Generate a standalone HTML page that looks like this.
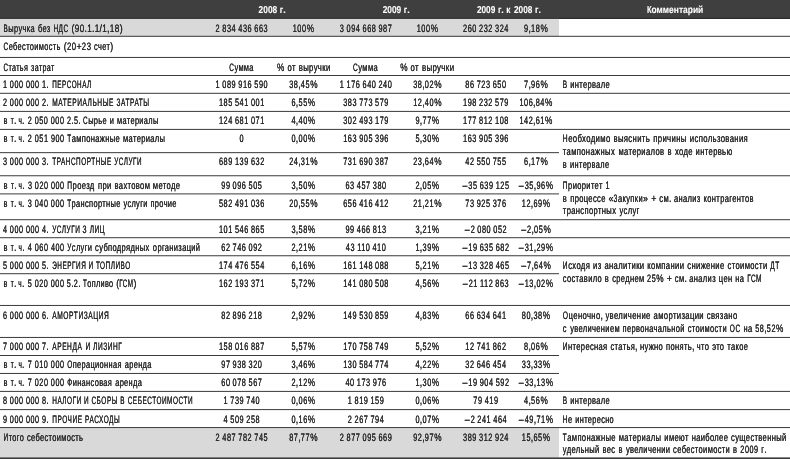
<!DOCTYPE html>
<html><head><meta charset="utf-8"><title>table</title>
<style>
html,body{margin:0;padding:0;background:#fff;}
body{width:790px;height:459px;position:relative;overflow:hidden;font-family:"Liberation Sans",sans-serif;}
svg{position:absolute;left:0;top:0;}
#tx{position:absolute;left:0;top:0;width:790px;height:459px;will-change:transform;}
span{position:absolute;left:0;top:0;white-space:pre;transform-origin:0 0;line-height:normal;text-rendering:geometricPrecision;}
.t{font-size:10.8px;color:#2b2b2b;-webkit-text-stroke:0.15px #2b2b2b;text-shadow:0 0 0 #2b2b2b;}
.h{font-size:10.0px;font-weight:bold;color:#fff;-webkit-text-stroke:0.1px #fff;}
</style></head><body>
<svg width="790" height="459" viewBox="0 0 790 459">
<rect x="0" y="0" width="790" height="18.4" fill="#3f3f3f"/>
<rect x="0" y="17.9" width="790" height="1.0" fill="#1c1c1c"/>
<rect x="0" y="18.9" width="559.0" height="17.4" fill="#d9d9d9"/>
<rect x="0" y="427.55" width="559.0" height="30.05000000000001" fill="#d9d9d9"/>
<rect x="0" y="35.80" width="790" height="1" fill="#3a3a3a"/>
<rect x="0" y="56.95" width="790" height="1" fill="#3a3a3a"/>
<rect x="0" y="75.00" width="790" height="1" fill="#3a3a3a"/>
<rect x="0" y="92.80" width="790" height="1" fill="#3a3a3a"/>
<rect x="0" y="110.90" width="790" height="1" fill="#3a3a3a"/>
<rect x="0" y="128.90" width="790" height="1" fill="#3a3a3a"/>
<rect x="0" y="152.15" width="559.0" height="1" fill="#3a3a3a"/>
<rect x="0" y="175.25" width="790" height="1" fill="#3a3a3a"/>
<rect x="0" y="193.40" width="559.0" height="1" fill="#3a3a3a"/>
<rect x="0" y="219.20" width="790" height="1" fill="#3a3a3a"/>
<rect x="0" y="237.20" width="790" height="1" fill="#3a3a3a"/>
<rect x="0" y="255.25" width="790" height="1" fill="#3a3a3a"/>
<rect x="0" y="273.20" width="559.0" height="1" fill="#3a3a3a"/>
<rect x="0" y="304.95" width="790" height="1" fill="#3a3a3a"/>
<rect x="0" y="336.95" width="790" height="1" fill="#3a3a3a"/>
<rect x="0" y="355.00" width="559.0" height="1" fill="#3a3a3a"/>
<rect x="0" y="372.95" width="559.0" height="1" fill="#3a3a3a"/>
<rect x="0" y="390.90" width="790" height="1" fill="#3a3a3a"/>
<rect x="0" y="409.10" width="790" height="1" fill="#3a3a3a"/>
<rect x="0" y="427.05" width="790" height="1" fill="#3a3a3a"/>
<rect x="0" y="457.4" width="790" height="1.6" fill="#3a3a3a"/>
</svg>
<div id="tx">
<span class="h" style="transform:translate(258.60px,5.00px) scaleX(0.8344)">2008</span>
<span class="h" style="transform:translate(279.76px,5.00px) scaleX(0.8376)">г</span>
<span class="h" style="transform:translate(283.25px,5.00px) scaleX(0.8829)">.</span>
<span class="h" style="transform:translate(382.70px,5.00px) scaleX(0.8344)">2009</span>
<span class="h" style="transform:translate(403.86px,5.00px) scaleX(0.8376)">г</span>
<span class="h" style="transform:translate(407.35px,5.00px) scaleX(0.8829)">.</span>
<span class="h" style="transform:translate(476.90px,5.00px) scaleX(0.8264)">2009</span>
<span class="h" style="transform:translate(497.88px,5.00px) scaleX(0.8296)">г</span>
<span class="h" style="transform:translate(501.34px,5.00px) scaleX(0.8743)">.</span>
<span class="h" style="transform:translate(506.36px,5.00px) scaleX(0.8296)">к</span>
<span class="h" style="transform:translate(513.94px,5.00px) scaleX(0.8264)">2008</span>
<span class="h" style="transform:translate(534.92px,5.00px) scaleX(0.8296)">г</span>
<span class="h" style="transform:translate(538.38px,5.00px) scaleX(0.8743)">.</span>
<span class="h" style="transform:translate(646.90px,5.00px) scaleX(0.7558)">К</span>
<span class="h" style="transform:translate(651.51px,5.00px) scaleX(0.8461)">омментарий</span>
<span class="t" style="transform:translate(3.50px,22.70px) scaleX(0.5951)">В</span>
<span class="t" style="letter-spacing:0.497px;transform:translate(8.33px,22.70px) scaleX(0.6922)">ыручка</span>
<span class="t" style="letter-spacing:0.499px;transform:translate(37.91px,22.70px) scaleX(0.6886)">без</span>
<span class="t" style="letter-spacing:0.901px;transform:translate(53.38px,22.70px) scaleX(0.5993)">НДС</span>
<span class="t" style="transform:translate(71.51px,22.70px) scaleX(0.8195)">(</span>
<span class="t" style="letter-spacing:0.731px;transform:translate(74.74px,22.70px) scaleX(0.7525)">90</span>
<span class="t" style="transform:translate(84.60px,22.70px) scaleX(0.8048)">.</span>
<span class="t" style="transform:translate(87.29px,22.70px) scaleX(0.7525)">1</span>
<span class="t" style="transform:translate(92.08px,22.70px) scaleX(0.8048)">.</span>
<span class="t" style="transform:translate(94.77px,22.70px) scaleX(0.7525)">1</span>
<span class="t" style="transform:translate(99.56px,22.70px) scaleX(0.8195)">/</span>
<span class="t" style="transform:translate(102.30px,22.70px) scaleX(0.7525)">1</span>
<span class="t" style="transform:translate(107.09px,22.70px) scaleX(0.8048)">,</span>
<span class="t" style="letter-spacing:0.731px;transform:translate(109.78px,22.70px) scaleX(0.7525)">18</span>
<span class="t" style="transform:translate(119.64px,22.70px) scaleX(0.8195)">)</span>
<span class="t" style="transform:translate(215.59px,22.70px) scaleX(0.6789)">2</span>
<span class="t" style="letter-spacing:0.810px;transform:translate(222.32px,22.70px) scaleX(0.6789)">834</span>
<span class="t" style="letter-spacing:0.810px;transform:translate(238.30px,22.70px) scaleX(0.6789)">436</span>
<span class="t" style="letter-spacing:0.810px;transform:translate(254.28px,22.70px) scaleX(0.6789)">663</span>
<span class="t" style="letter-spacing:0.810px;transform:translate(292.68px,22.70px) scaleX(0.6789)">100</span>
<span class="t" style="transform:translate(306.64px,22.70px) scaleX(0.7656)">%</span>
<span class="t" style="transform:translate(339.79px,22.70px) scaleX(0.6789)">3</span>
<span class="t" style="letter-spacing:0.810px;transform:translate(346.52px,22.70px) scaleX(0.6789)">094</span>
<span class="t" style="letter-spacing:0.810px;transform:translate(362.50px,22.70px) scaleX(0.6789)">668</span>
<span class="t" style="letter-spacing:0.810px;transform:translate(378.48px,22.70px) scaleX(0.6789)">987</span>
<span class="t" style="letter-spacing:0.810px;transform:translate(416.68px,22.70px) scaleX(0.6789)">100</span>
<span class="t" style="transform:translate(430.64px,22.70px) scaleX(0.7656)">%</span>
<span class="t" style="letter-spacing:0.810px;transform:translate(463.06px,22.70px) scaleX(0.6789)">260</span>
<span class="t" style="letter-spacing:0.810px;transform:translate(479.04px,22.70px) scaleX(0.6789)">232</span>
<span class="t" style="letter-spacing:0.810px;transform:translate(495.01px,22.70px) scaleX(0.6789)">324</span>
<span class="t" style="transform:translate(524.08px,22.70px) scaleX(0.6789)">9</span>
<span class="t" style="transform:translate(528.43px,22.70px) scaleX(0.8048)">,</span>
<span class="t" style="letter-spacing:0.810px;transform:translate(531.12px,22.70px) scaleX(0.6789)">18</span>
<span class="t" style="transform:translate(540.44px,22.70px) scaleX(0.7656)">%</span>
<span class="t" style="transform:translate(3.50px,41.00px) scaleX(0.5981)">С</span>
<span class="t" style="letter-spacing:0.498px;transform:translate(8.70px,41.00px) scaleX(0.6877)">ебестоимость</span>
<span class="t" style="transform:translate(63.79px,41.00px) scaleX(0.8159)">(</span>
<span class="t" style="letter-spacing:0.771px;transform:translate(67.00px,41.00px) scaleX(0.7132)">20</span>
<span class="t" style="transform:translate(76.39px,41.00px) scaleX(0.8159)">+</span>
<span class="t" style="letter-spacing:0.771px;transform:translate(81.81px,41.00px) scaleX(0.7132)">23</span>
<span class="t" style="letter-spacing:0.501px;transform:translate(94.10px,41.00px) scaleX(0.6830)">счет</span>
<span class="t" style="transform:translate(110.15px,41.00px) scaleX(0.8159)">)</span>
<span class="t" style="transform:translate(3.50px,61.60px) scaleX(0.5809)">С</span>
<span class="t" style="letter-spacing:0.501px;transform:translate(8.55px,61.60px) scaleX(0.6638)">татья</span>
<span class="t" style="letter-spacing:0.501px;transform:translate(31.11px,61.60px) scaleX(0.6637)">затрат</span>
<span class="t" style="transform:translate(229.20px,61.60px) scaleX(0.5965)">С</span>
<span class="t" style="letter-spacing:0.493px;transform:translate(234.39px,61.60px) scaleX(0.6925)">умма</span>
<span class="t" style="transform:translate(277.10px,61.60px) scaleX(0.7656)">%</span>
<span class="t" style="letter-spacing:0.501px;transform:translate(287.46px,61.60px) scaleX(0.7112)">от</span>
<span class="t" style="letter-spacing:0.497px;transform:translate(298.67px,61.60px) scaleX(0.7171)">выручки</span>
<span class="t" style="transform:translate(353.00px,61.60px) scaleX(0.6063)">С</span>
<span class="t" style="letter-spacing:0.493px;transform:translate(358.27px,61.60px) scaleX(0.7039)">умма</span>
<span class="t" style="transform:translate(400.20px,61.60px) scaleX(0.7656)">%</span>
<span class="t" style="letter-spacing:0.501px;transform:translate(410.56px,61.60px) scaleX(0.7219)">от</span>
<span class="t" style="letter-spacing:0.497px;transform:translate(421.89px,61.60px) scaleX(0.7279)">выручки</span>
<span class="t" style="transform:translate(2.88px,79.10px) scaleX(0.6691)">1</span>
<span class="t" style="letter-spacing:0.822px;transform:translate(9.84px,79.10px) scaleX(0.6691)">000</span>
<span class="t" style="letter-spacing:0.822px;transform:translate(25.94px,79.10px) scaleX(0.6691)">000</span>
<span class="t" style="transform:translate(42.05px,79.10px) scaleX(0.6691)">1</span>
<span class="t" style="transform:translate(46.34px,79.10px) scaleX(0.8048)">.</span>
<span class="t" style="letter-spacing:0.903px;transform:translate(52.25px,79.10px) scaleX(0.5837)">ПЕРСОНАЛ</span>
<span class="t" style="transform:translate(215.59px,79.10px) scaleX(0.6789)">1</span>
<span class="t" style="letter-spacing:0.810px;transform:translate(222.32px,79.10px) scaleX(0.6789)">089</span>
<span class="t" style="letter-spacing:0.810px;transform:translate(238.30px,79.10px) scaleX(0.6789)">916</span>
<span class="t" style="letter-spacing:0.810px;transform:translate(254.28px,79.10px) scaleX(0.6789)">590</span>
<span class="t" style="letter-spacing:0.810px;transform:translate(289.16px,79.10px) scaleX(0.6789)">38</span>
<span class="t" style="transform:translate(298.14px,79.10px) scaleX(0.8048)">,</span>
<span class="t" style="letter-spacing:0.810px;transform:translate(300.83px,79.10px) scaleX(0.6789)">45</span>
<span class="t" style="transform:translate(310.16px,79.10px) scaleX(0.7656)">%</span>
<span class="t" style="transform:translate(339.79px,79.10px) scaleX(0.6789)">1</span>
<span class="t" style="letter-spacing:0.810px;transform:translate(346.52px,79.10px) scaleX(0.6789)">176</span>
<span class="t" style="letter-spacing:0.810px;transform:translate(362.50px,79.10px) scaleX(0.6789)">640</span>
<span class="t" style="letter-spacing:0.810px;transform:translate(378.48px,79.10px) scaleX(0.6789)">240</span>
<span class="t" style="letter-spacing:0.810px;transform:translate(413.16px,79.10px) scaleX(0.6789)">38</span>
<span class="t" style="transform:translate(422.14px,79.10px) scaleX(0.8048)">,</span>
<span class="t" style="letter-spacing:0.810px;transform:translate(424.83px,79.10px) scaleX(0.6789)">02</span>
<span class="t" style="transform:translate(434.16px,79.10px) scaleX(0.7656)">%</span>
<span class="t" style="letter-spacing:0.810px;transform:translate(465.37px,79.10px) scaleX(0.6789)">86</span>
<span class="t" style="letter-spacing:0.810px;transform:translate(476.72px,79.10px) scaleX(0.6789)">723</span>
<span class="t" style="letter-spacing:0.810px;transform:translate(492.70px,79.10px) scaleX(0.6789)">650</span>
<span class="t" style="transform:translate(524.08px,79.10px) scaleX(0.6789)">7</span>
<span class="t" style="transform:translate(528.43px,79.10px) scaleX(0.8048)">,</span>
<span class="t" style="letter-spacing:0.810px;transform:translate(531.12px,79.10px) scaleX(0.6789)">96</span>
<span class="t" style="transform:translate(540.44px,79.10px) scaleX(0.7656)">%</span>
<span class="t" style="transform:translate(2.88px,97.30px) scaleX(0.6691)">2</span>
<span class="t" style="letter-spacing:0.822px;transform:translate(9.84px,97.30px) scaleX(0.6691)">000</span>
<span class="t" style="letter-spacing:0.822px;transform:translate(25.94px,97.30px) scaleX(0.6691)">000</span>
<span class="t" style="transform:translate(42.05px,97.30px) scaleX(0.6691)">2</span>
<span class="t" style="transform:translate(46.34px,97.30px) scaleX(0.8048)">.</span>
<span class="t" style="letter-spacing:0.903px;transform:translate(52.25px,97.30px) scaleX(0.6108)">МАТЕРИАЛЬНЫЕ</span>
<span class="t" style="letter-spacing:0.913px;transform:translate(116.54px,97.30px) scaleX(0.6044)">ЗАТРАТЫ</span>
<span class="t" style="letter-spacing:0.810px;transform:translate(218.96px,97.30px) scaleX(0.6789)">185</span>
<span class="t" style="letter-spacing:0.810px;transform:translate(234.94px,97.30px) scaleX(0.6789)">541</span>
<span class="t" style="letter-spacing:0.810px;transform:translate(250.91px,97.30px) scaleX(0.6789)">001</span>
<span class="t" style="transform:translate(291.48px,97.30px) scaleX(0.6789)">6</span>
<span class="t" style="transform:translate(295.83px,97.30px) scaleX(0.8048)">,</span>
<span class="t" style="letter-spacing:0.810px;transform:translate(298.52px,97.30px) scaleX(0.6789)">55</span>
<span class="t" style="transform:translate(307.84px,97.30px) scaleX(0.7656)">%</span>
<span class="t" style="letter-spacing:0.810px;transform:translate(343.16px,97.30px) scaleX(0.6789)">383</span>
<span class="t" style="letter-spacing:0.810px;transform:translate(359.14px,97.30px) scaleX(0.6789)">773</span>
<span class="t" style="letter-spacing:0.810px;transform:translate(375.11px,97.30px) scaleX(0.6789)">579</span>
<span class="t" style="letter-spacing:0.810px;transform:translate(413.16px,97.30px) scaleX(0.6789)">12</span>
<span class="t" style="transform:translate(422.14px,97.30px) scaleX(0.8048)">,</span>
<span class="t" style="letter-spacing:0.810px;transform:translate(424.83px,97.30px) scaleX(0.6789)">40</span>
<span class="t" style="transform:translate(434.16px,97.30px) scaleX(0.7656)">%</span>
<span class="t" style="letter-spacing:0.810px;transform:translate(463.06px,97.30px) scaleX(0.6789)">198</span>
<span class="t" style="letter-spacing:0.810px;transform:translate(479.04px,97.30px) scaleX(0.6789)">232</span>
<span class="t" style="letter-spacing:0.810px;transform:translate(495.01px,97.30px) scaleX(0.6789)">579</span>
<span class="t" style="letter-spacing:0.810px;transform:translate(519.45px,97.30px) scaleX(0.6789)">106</span>
<span class="t" style="transform:translate(533.05px,97.30px) scaleX(0.8048)">,</span>
<span class="t" style="letter-spacing:0.810px;transform:translate(535.74px,97.30px) scaleX(0.6789)">84</span>
<span class="t" style="transform:translate(545.07px,97.30px) scaleX(0.7656)">%</span>
<span class="t" style="transform:translate(3.50px,115.25px) scaleX(0.6803)">в</span>
<span class="t" style="transform:translate(10.78px,115.25px) scaleX(0.5871)">т</span>
<span class="t" style="transform:translate(13.99px,115.25px) scaleX(0.8048)">.</span>
<span class="t" style="transform:translate(18.40px,115.25px) scaleX(0.5944)">ч</span>
<span class="t" style="transform:translate(22.04px,115.25px) scaleX(0.8048)">.</span>
<span class="t" style="transform:translate(27.73px,115.25px) scaleX(0.6691)">2</span>
<span class="t" style="letter-spacing:0.822px;transform:translate(34.70px,115.25px) scaleX(0.6691)">050</span>
<span class="t" style="letter-spacing:0.822px;transform:translate(50.80px,115.25px) scaleX(0.6691)">000</span>
<span class="t" style="transform:translate(66.91px,115.25px) scaleX(0.6691)">2</span>
<span class="t" style="transform:translate(71.20px,115.25px) scaleX(0.8048)">.</span>
<span class="t" style="transform:translate(73.89px,115.25px) scaleX(0.6691)">5</span>
<span class="t" style="transform:translate(78.18px,115.25px) scaleX(0.8048)">.</span>
<span class="t" style="transform:translate(82.99px,115.25px) scaleX(0.5922)">С</span>
<span class="t" style="letter-spacing:0.494px;transform:translate(88.14px,115.25px) scaleX(0.6860)">ырье</span>
<span class="t" style="transform:translate(109.78px,115.25px) scaleX(0.6832)">и</span>
<span class="t" style="letter-spacing:0.495px;transform:translate(117.08px,115.25px) scaleX(0.6851)">материалы</span>
<span class="t" style="letter-spacing:0.810px;transform:translate(218.96px,115.25px) scaleX(0.6789)">124</span>
<span class="t" style="letter-spacing:0.810px;transform:translate(234.94px,115.25px) scaleX(0.6789)">681</span>
<span class="t" style="letter-spacing:0.810px;transform:translate(250.91px,115.25px) scaleX(0.6789)">071</span>
<span class="t" style="transform:translate(291.48px,115.25px) scaleX(0.6789)">4</span>
<span class="t" style="transform:translate(295.83px,115.25px) scaleX(0.8048)">,</span>
<span class="t" style="letter-spacing:0.810px;transform:translate(298.52px,115.25px) scaleX(0.6789)">40</span>
<span class="t" style="transform:translate(307.84px,115.25px) scaleX(0.7656)">%</span>
<span class="t" style="letter-spacing:0.810px;transform:translate(343.16px,115.25px) scaleX(0.6789)">302</span>
<span class="t" style="letter-spacing:0.810px;transform:translate(359.14px,115.25px) scaleX(0.6789)">493</span>
<span class="t" style="letter-spacing:0.810px;transform:translate(375.11px,115.25px) scaleX(0.6789)">179</span>
<span class="t" style="transform:translate(415.48px,115.25px) scaleX(0.6789)">9</span>
<span class="t" style="transform:translate(419.83px,115.25px) scaleX(0.8048)">,</span>
<span class="t" style="letter-spacing:0.810px;transform:translate(422.52px,115.25px) scaleX(0.6789)">77</span>
<span class="t" style="transform:translate(431.84px,115.25px) scaleX(0.7656)">%</span>
<span class="t" style="letter-spacing:0.810px;transform:translate(463.06px,115.25px) scaleX(0.6789)">177</span>
<span class="t" style="letter-spacing:0.810px;transform:translate(479.04px,115.25px) scaleX(0.6789)">812</span>
<span class="t" style="letter-spacing:0.810px;transform:translate(495.01px,115.25px) scaleX(0.6789)">108</span>
<span class="t" style="letter-spacing:0.810px;transform:translate(519.45px,115.25px) scaleX(0.6789)">142</span>
<span class="t" style="transform:translate(533.05px,115.25px) scaleX(0.8048)">,</span>
<span class="t" style="letter-spacing:0.810px;transform:translate(535.74px,115.25px) scaleX(0.6789)">61</span>
<span class="t" style="transform:translate(545.07px,115.25px) scaleX(0.7656)">%</span>
<span class="t" style="transform:translate(3.50px,133.30px) scaleX(0.6948)">в</span>
<span class="t" style="transform:translate(10.87px,133.30px) scaleX(0.5871)">т</span>
<span class="t" style="transform:translate(14.07px,133.30px) scaleX(0.8048)">.</span>
<span class="t" style="transform:translate(18.49px,133.30px) scaleX(0.5944)">ч</span>
<span class="t" style="transform:translate(22.13px,133.30px) scaleX(0.8048)">.</span>
<span class="t" style="transform:translate(27.82px,133.30px) scaleX(0.6691)">2</span>
<span class="t" style="letter-spacing:0.822px;transform:translate(34.79px,133.30px) scaleX(0.6691)">051</span>
<span class="t" style="letter-spacing:0.822px;transform:translate(50.89px,133.30px) scaleX(0.6691)">900</span>
<span class="t" style="transform:translate(67.22px,133.30px) scaleX(0.5921)">Т</span>
<span class="t" style="letter-spacing:0.494px;transform:translate(71.67px,133.30px) scaleX(0.7013)">ампонажные</span>
<span class="t" style="letter-spacing:0.495px;transform:translate(123.00px,133.30px) scaleX(0.6997)">материалы</span>
<span class="t" style="transform:translate(239.56px,133.30px) scaleX(0.6789)">0</span>
<span class="t" style="transform:translate(291.48px,133.30px) scaleX(0.6789)">0</span>
<span class="t" style="transform:translate(295.83px,133.30px) scaleX(0.8048)">,</span>
<span class="t" style="letter-spacing:0.810px;transform:translate(298.52px,133.30px) scaleX(0.6789)">00</span>
<span class="t" style="transform:translate(307.84px,133.30px) scaleX(0.7656)">%</span>
<span class="t" style="letter-spacing:0.810px;transform:translate(343.16px,133.30px) scaleX(0.6789)">163</span>
<span class="t" style="letter-spacing:0.810px;transform:translate(359.14px,133.30px) scaleX(0.6789)">905</span>
<span class="t" style="letter-spacing:0.810px;transform:translate(375.11px,133.30px) scaleX(0.6789)">396</span>
<span class="t" style="transform:translate(415.48px,133.30px) scaleX(0.6789)">5</span>
<span class="t" style="transform:translate(419.83px,133.30px) scaleX(0.8048)">,</span>
<span class="t" style="letter-spacing:0.810px;transform:translate(422.52px,133.30px) scaleX(0.6789)">30</span>
<span class="t" style="transform:translate(431.84px,133.30px) scaleX(0.7656)">%</span>
<span class="t" style="letter-spacing:0.810px;transform:translate(463.06px,133.30px) scaleX(0.6789)">163</span>
<span class="t" style="letter-spacing:0.810px;transform:translate(479.04px,133.30px) scaleX(0.6789)">905</span>
<span class="t" style="letter-spacing:0.810px;transform:translate(495.01px,133.30px) scaleX(0.6789)">396</span>
<span class="t" style="transform:translate(2.88px,156.40px) scaleX(0.6691)">3</span>
<span class="t" style="letter-spacing:0.822px;transform:translate(9.84px,156.40px) scaleX(0.6691)">000</span>
<span class="t" style="letter-spacing:0.822px;transform:translate(25.94px,156.40px) scaleX(0.6691)">000</span>
<span class="t" style="transform:translate(42.05px,156.40px) scaleX(0.6691)">3</span>
<span class="t" style="transform:translate(46.34px,156.40px) scaleX(0.8048)">.</span>
<span class="t" style="letter-spacing:0.904px;transform:translate(52.25px,156.40px) scaleX(0.5905)">ТРАНСПОРТНЫЕ</span>
<span class="t" style="letter-spacing:0.912px;transform:translate(114.29px,156.40px) scaleX(0.5852)">УСЛУГИ</span>
<span class="t" style="letter-spacing:0.810px;transform:translate(218.96px,156.40px) scaleX(0.6789)">689</span>
<span class="t" style="letter-spacing:0.810px;transform:translate(234.94px,156.40px) scaleX(0.6789)">139</span>
<span class="t" style="letter-spacing:0.810px;transform:translate(250.91px,156.40px) scaleX(0.6789)">632</span>
<span class="t" style="letter-spacing:0.810px;transform:translate(289.16px,156.40px) scaleX(0.6789)">24</span>
<span class="t" style="transform:translate(298.14px,156.40px) scaleX(0.8048)">,</span>
<span class="t" style="letter-spacing:0.810px;transform:translate(300.83px,156.40px) scaleX(0.6789)">31</span>
<span class="t" style="transform:translate(310.16px,156.40px) scaleX(0.7656)">%</span>
<span class="t" style="letter-spacing:0.810px;transform:translate(343.16px,156.40px) scaleX(0.6789)">731</span>
<span class="t" style="letter-spacing:0.810px;transform:translate(359.14px,156.40px) scaleX(0.6789)">690</span>
<span class="t" style="letter-spacing:0.810px;transform:translate(375.11px,156.40px) scaleX(0.6789)">387</span>
<span class="t" style="letter-spacing:0.810px;transform:translate(413.16px,156.40px) scaleX(0.6789)">23</span>
<span class="t" style="transform:translate(422.14px,156.40px) scaleX(0.8048)">,</span>
<span class="t" style="letter-spacing:0.810px;transform:translate(424.83px,156.40px) scaleX(0.6789)">64</span>
<span class="t" style="transform:translate(434.16px,156.40px) scaleX(0.7656)">%</span>
<span class="t" style="letter-spacing:0.810px;transform:translate(465.37px,156.40px) scaleX(0.6789)">42</span>
<span class="t" style="letter-spacing:0.810px;transform:translate(476.72px,156.40px) scaleX(0.6789)">550</span>
<span class="t" style="letter-spacing:0.810px;transform:translate(492.70px,156.40px) scaleX(0.6789)">755</span>
<span class="t" style="transform:translate(524.08px,156.40px) scaleX(0.6789)">6</span>
<span class="t" style="transform:translate(528.43px,156.40px) scaleX(0.8048)">,</span>
<span class="t" style="letter-spacing:0.810px;transform:translate(531.12px,156.40px) scaleX(0.6789)">17</span>
<span class="t" style="transform:translate(540.44px,156.40px) scaleX(0.7656)">%</span>
<span class="t" style="transform:translate(3.50px,179.80px) scaleX(0.7043)">в</span>
<span class="t" style="transform:translate(10.93px,179.80px) scaleX(0.5871)">т</span>
<span class="t" style="transform:translate(14.13px,179.80px) scaleX(0.8048)">.</span>
<span class="t" style="transform:translate(18.54px,179.80px) scaleX(0.5944)">ч</span>
<span class="t" style="transform:translate(22.19px,179.80px) scaleX(0.8048)">.</span>
<span class="t" style="transform:translate(27.88px,179.80px) scaleX(0.6691)">3</span>
<span class="t" style="letter-spacing:0.822px;transform:translate(34.84px,179.80px) scaleX(0.6691)">020</span>
<span class="t" style="letter-spacing:0.822px;transform:translate(50.95px,179.80px) scaleX(0.6691)">000</span>
<span class="t" style="transform:translate(67.27px,179.80px) scaleX(0.6127)">П</span>
<span class="t" style="letter-spacing:0.498px;transform:translate(72.58px,179.80px) scaleX(0.7045)">роезд</span>
<span class="t" style="letter-spacing:0.497px;transform:translate(97.96px,179.80px) scaleX(0.7066)">при</span>
<span class="t" style="letter-spacing:0.497px;transform:translate(114.48px,179.80px) scaleX(0.7054)">вахтовом</span>
<span class="t" style="letter-spacing:0.496px;transform:translate(152.82px,179.80px) scaleX(0.7069)">методе</span>
<span class="t" style="letter-spacing:0.810px;transform:translate(221.27px,179.80px) scaleX(0.6789)">99</span>
<span class="t" style="letter-spacing:0.810px;transform:translate(232.62px,179.80px) scaleX(0.6789)">096</span>
<span class="t" style="letter-spacing:0.810px;transform:translate(248.60px,179.80px) scaleX(0.6789)">505</span>
<span class="t" style="transform:translate(291.48px,179.80px) scaleX(0.6789)">3</span>
<span class="t" style="transform:translate(295.83px,179.80px) scaleX(0.8048)">,</span>
<span class="t" style="letter-spacing:0.810px;transform:translate(298.52px,179.80px) scaleX(0.6789)">50</span>
<span class="t" style="transform:translate(307.84px,179.80px) scaleX(0.7656)">%</span>
<span class="t" style="letter-spacing:0.810px;transform:translate(345.47px,179.80px) scaleX(0.6789)">63</span>
<span class="t" style="letter-spacing:0.810px;transform:translate(356.82px,179.80px) scaleX(0.6789)">457</span>
<span class="t" style="letter-spacing:0.810px;transform:translate(372.80px,179.80px) scaleX(0.6789)">380</span>
<span class="t" style="transform:translate(415.48px,179.80px) scaleX(0.6789)">2</span>
<span class="t" style="transform:translate(419.83px,179.80px) scaleX(0.8048)">,</span>
<span class="t" style="letter-spacing:0.810px;transform:translate(422.52px,179.80px) scaleX(0.6789)">05</span>
<span class="t" style="transform:translate(431.84px,179.80px) scaleX(0.7656)">%</span>
<span class="t" style="transform:translate(462.44px,179.80px) scaleX(0.8158)">–</span>
<span class="t" style="letter-spacing:0.810px;transform:translate(468.32px,179.80px) scaleX(0.6789)">35</span>
<span class="t" style="letter-spacing:0.810px;transform:translate(479.67px,179.80px) scaleX(0.6789)">639</span>
<span class="t" style="letter-spacing:0.810px;transform:translate(495.65px,179.80px) scaleX(0.6789)">125</span>
<span class="t" style="transform:translate(518.84px,179.80px) scaleX(0.8158)">–</span>
<span class="t" style="letter-spacing:0.810px;transform:translate(524.71px,179.80px) scaleX(0.6789)">35</span>
<span class="t" style="transform:translate(533.69px,179.80px) scaleX(0.8048)">,</span>
<span class="t" style="letter-spacing:0.810px;transform:translate(536.38px,179.80px) scaleX(0.6789)">96</span>
<span class="t" style="transform:translate(545.71px,179.80px) scaleX(0.7656)">%</span>
<span class="t" style="transform:translate(3.50px,197.60px) scaleX(0.6874)">в</span>
<span class="t" style="transform:translate(10.82px,197.60px) scaleX(0.5871)">т</span>
<span class="t" style="transform:translate(14.03px,197.60px) scaleX(0.8048)">.</span>
<span class="t" style="transform:translate(18.44px,197.60px) scaleX(0.5944)">ч</span>
<span class="t" style="transform:translate(22.09px,197.60px) scaleX(0.8048)">.</span>
<span class="t" style="transform:translate(27.78px,197.60px) scaleX(0.6691)">3</span>
<span class="t" style="letter-spacing:0.822px;transform:translate(34.74px,197.60px) scaleX(0.6691)">040</span>
<span class="t" style="letter-spacing:0.822px;transform:translate(50.85px,197.60px) scaleX(0.6691)">000</span>
<span class="t" style="transform:translate(67.17px,197.60px) scaleX(0.5858)">Т</span>
<span class="t" style="letter-spacing:0.496px;transform:translate(71.57px,197.60px) scaleX(0.6898)">ранспортные</span>
<span class="t" style="letter-spacing:0.501px;transform:translate(123.49px,197.60px) scaleX(0.6836)">услуги</span>
<span class="t" style="letter-spacing:0.497px;transform:translate(150.49px,197.60px) scaleX(0.6889)">прочие</span>
<span class="t" style="letter-spacing:0.810px;transform:translate(218.96px,197.60px) scaleX(0.6789)">582</span>
<span class="t" style="letter-spacing:0.810px;transform:translate(234.94px,197.60px) scaleX(0.6789)">491</span>
<span class="t" style="letter-spacing:0.810px;transform:translate(250.91px,197.60px) scaleX(0.6789)">036</span>
<span class="t" style="letter-spacing:0.810px;transform:translate(289.16px,197.60px) scaleX(0.6789)">20</span>
<span class="t" style="transform:translate(298.14px,197.60px) scaleX(0.8048)">,</span>
<span class="t" style="letter-spacing:0.810px;transform:translate(300.83px,197.60px) scaleX(0.6789)">55</span>
<span class="t" style="transform:translate(310.16px,197.60px) scaleX(0.7656)">%</span>
<span class="t" style="letter-spacing:0.810px;transform:translate(343.16px,197.60px) scaleX(0.6789)">656</span>
<span class="t" style="letter-spacing:0.810px;transform:translate(359.14px,197.60px) scaleX(0.6789)">416</span>
<span class="t" style="letter-spacing:0.810px;transform:translate(375.11px,197.60px) scaleX(0.6789)">412</span>
<span class="t" style="letter-spacing:0.810px;transform:translate(413.16px,197.60px) scaleX(0.6789)">21</span>
<span class="t" style="transform:translate(422.14px,197.60px) scaleX(0.8048)">,</span>
<span class="t" style="letter-spacing:0.810px;transform:translate(424.83px,197.60px) scaleX(0.6789)">21</span>
<span class="t" style="transform:translate(434.16px,197.60px) scaleX(0.7656)">%</span>
<span class="t" style="letter-spacing:0.810px;transform:translate(465.37px,197.60px) scaleX(0.6789)">73</span>
<span class="t" style="letter-spacing:0.810px;transform:translate(476.72px,197.60px) scaleX(0.6789)">925</span>
<span class="t" style="letter-spacing:0.810px;transform:translate(492.70px,197.60px) scaleX(0.6789)">376</span>
<span class="t" style="letter-spacing:0.810px;transform:translate(521.76px,197.60px) scaleX(0.6789)">12</span>
<span class="t" style="transform:translate(530.74px,197.60px) scaleX(0.8048)">,</span>
<span class="t" style="letter-spacing:0.810px;transform:translate(533.43px,197.60px) scaleX(0.6789)">69</span>
<span class="t" style="transform:translate(542.76px,197.60px) scaleX(0.7656)">%</span>
<span class="t" style="transform:translate(2.88px,223.70px) scaleX(0.6691)">4</span>
<span class="t" style="letter-spacing:0.822px;transform:translate(9.84px,223.70px) scaleX(0.6691)">000</span>
<span class="t" style="letter-spacing:0.822px;transform:translate(25.94px,223.70px) scaleX(0.6691)">000</span>
<span class="t" style="transform:translate(42.05px,223.70px) scaleX(0.6691)">4</span>
<span class="t" style="transform:translate(46.34px,223.70px) scaleX(0.8048)">.</span>
<span class="t" style="letter-spacing:0.912px;transform:translate(52.25px,223.70px) scaleX(0.5949)">УСЛУГИ</span>
<span class="t" style="transform:translate(82.58px,223.70px) scaleX(0.6691)">3</span>
<span class="t" style="letter-spacing:0.902px;transform:translate(89.78px,223.70px) scaleX(0.6014)">ЛИЦ</span>
<span class="t" style="letter-spacing:0.810px;transform:translate(218.96px,223.70px) scaleX(0.6789)">101</span>
<span class="t" style="letter-spacing:0.810px;transform:translate(234.94px,223.70px) scaleX(0.6789)">546</span>
<span class="t" style="letter-spacing:0.810px;transform:translate(250.91px,223.70px) scaleX(0.6789)">865</span>
<span class="t" style="transform:translate(291.48px,223.70px) scaleX(0.6789)">3</span>
<span class="t" style="transform:translate(295.83px,223.70px) scaleX(0.8048)">,</span>
<span class="t" style="letter-spacing:0.810px;transform:translate(298.52px,223.70px) scaleX(0.6789)">58</span>
<span class="t" style="transform:translate(307.84px,223.70px) scaleX(0.7656)">%</span>
<span class="t" style="letter-spacing:0.810px;transform:translate(345.47px,223.70px) scaleX(0.6789)">99</span>
<span class="t" style="letter-spacing:0.810px;transform:translate(356.82px,223.70px) scaleX(0.6789)">466</span>
<span class="t" style="letter-spacing:0.810px;transform:translate(372.80px,223.70px) scaleX(0.6789)">813</span>
<span class="t" style="transform:translate(415.48px,223.70px) scaleX(0.6789)">3</span>
<span class="t" style="transform:translate(419.83px,223.70px) scaleX(0.8048)">,</span>
<span class="t" style="letter-spacing:0.810px;transform:translate(422.52px,223.70px) scaleX(0.6789)">21</span>
<span class="t" style="transform:translate(431.84px,223.70px) scaleX(0.7656)">%</span>
<span class="t" style="transform:translate(464.76px,223.70px) scaleX(0.8158)">–</span>
<span class="t" style="transform:translate(470.63px,223.70px) scaleX(0.6789)">2</span>
<span class="t" style="letter-spacing:0.810px;transform:translate(477.36px,223.70px) scaleX(0.6789)">080</span>
<span class="t" style="letter-spacing:0.810px;transform:translate(493.34px,223.70px) scaleX(0.6789)">052</span>
<span class="t" style="transform:translate(521.15px,223.70px) scaleX(0.8158)">–</span>
<span class="t" style="transform:translate(527.02px,223.70px) scaleX(0.6789)">2</span>
<span class="t" style="transform:translate(531.38px,223.70px) scaleX(0.8048)">,</span>
<span class="t" style="letter-spacing:0.810px;transform:translate(534.07px,223.70px) scaleX(0.6789)">05</span>
<span class="t" style="transform:translate(543.39px,223.70px) scaleX(0.7656)">%</span>
<span class="t" style="transform:translate(3.50px,241.70px) scaleX(0.6947)">в</span>
<span class="t" style="transform:translate(10.87px,241.70px) scaleX(0.5871)">т</span>
<span class="t" style="transform:translate(14.07px,241.70px) scaleX(0.8048)">.</span>
<span class="t" style="transform:translate(18.49px,241.70px) scaleX(0.5944)">ч</span>
<span class="t" style="transform:translate(22.13px,241.70px) scaleX(0.8048)">.</span>
<span class="t" style="transform:translate(27.82px,241.70px) scaleX(0.6691)">4</span>
<span class="t" style="letter-spacing:0.822px;transform:translate(34.79px,241.70px) scaleX(0.6691)">060</span>
<span class="t" style="letter-spacing:0.822px;transform:translate(50.89px,241.70px) scaleX(0.6691)">400</span>
<span class="t" style="transform:translate(67.22px,241.70px) scaleX(0.5952)">У</span>
<span class="t" style="letter-spacing:0.501px;transform:translate(71.84px,241.70px) scaleX(0.6911)">слуги</span>
<span class="t" style="letter-spacing:0.496px;transform:translate(95.11px,241.70px) scaleX(0.6975)">субподрядных</span>
<span class="t" style="letter-spacing:0.498px;transform:translate(152.87px,241.70px) scaleX(0.6945)">организаций</span>
<span class="t" style="letter-spacing:0.810px;transform:translate(221.27px,241.70px) scaleX(0.6789)">62</span>
<span class="t" style="letter-spacing:0.810px;transform:translate(232.62px,241.70px) scaleX(0.6789)">746</span>
<span class="t" style="letter-spacing:0.810px;transform:translate(248.60px,241.70px) scaleX(0.6789)">092</span>
<span class="t" style="transform:translate(291.48px,241.70px) scaleX(0.6789)">2</span>
<span class="t" style="transform:translate(295.83px,241.70px) scaleX(0.8048)">,</span>
<span class="t" style="letter-spacing:0.810px;transform:translate(298.52px,241.70px) scaleX(0.6789)">21</span>
<span class="t" style="transform:translate(307.84px,241.70px) scaleX(0.7656)">%</span>
<span class="t" style="letter-spacing:0.810px;transform:translate(345.78px,241.70px) scaleX(0.6789)">43</span>
<span class="t" style="letter-spacing:0.815px;transform:translate(357.13px,241.70px) scaleX(0.6746)">110</span>
<span class="t" style="letter-spacing:0.810px;transform:translate(372.49px,241.70px) scaleX(0.6789)">410</span>
<span class="t" style="transform:translate(415.48px,241.70px) scaleX(0.6789)">1</span>
<span class="t" style="transform:translate(419.83px,241.70px) scaleX(0.8048)">,</span>
<span class="t" style="letter-spacing:0.810px;transform:translate(422.52px,241.70px) scaleX(0.6789)">39</span>
<span class="t" style="transform:translate(431.84px,241.70px) scaleX(0.7656)">%</span>
<span class="t" style="transform:translate(462.44px,241.70px) scaleX(0.8158)">–</span>
<span class="t" style="letter-spacing:0.810px;transform:translate(468.32px,241.70px) scaleX(0.6789)">19</span>
<span class="t" style="letter-spacing:0.810px;transform:translate(479.67px,241.70px) scaleX(0.6789)">635</span>
<span class="t" style="letter-spacing:0.810px;transform:translate(495.65px,241.70px) scaleX(0.6789)">682</span>
<span class="t" style="transform:translate(518.84px,241.70px) scaleX(0.8158)">–</span>
<span class="t" style="letter-spacing:0.810px;transform:translate(524.71px,241.70px) scaleX(0.6789)">31</span>
<span class="t" style="transform:translate(533.69px,241.70px) scaleX(0.8048)">,</span>
<span class="t" style="letter-spacing:0.810px;transform:translate(536.38px,241.70px) scaleX(0.6789)">29</span>
<span class="t" style="transform:translate(545.71px,241.70px) scaleX(0.7656)">%</span>
<span class="t" style="transform:translate(2.88px,259.90px) scaleX(0.6691)">5</span>
<span class="t" style="letter-spacing:0.822px;transform:translate(9.84px,259.90px) scaleX(0.6691)">000</span>
<span class="t" style="letter-spacing:0.822px;transform:translate(25.94px,259.90px) scaleX(0.6691)">000</span>
<span class="t" style="transform:translate(42.05px,259.90px) scaleX(0.6691)">5</span>
<span class="t" style="transform:translate(46.34px,259.90px) scaleX(0.8048)">.</span>
<span class="t" style="letter-spacing:0.906px;transform:translate(52.25px,259.90px) scaleX(0.5909)">ЭНЕРГИЯ</span>
<span class="t" style="transform:translate(88.55px,259.90px) scaleX(0.5949)">И</span>
<span class="t" style="letter-spacing:0.904px;transform:translate(95.91px,259.90px) scaleX(0.5923)">ТОПЛИВО</span>
<span class="t" style="letter-spacing:0.810px;transform:translate(218.96px,259.90px) scaleX(0.6789)">174</span>
<span class="t" style="letter-spacing:0.810px;transform:translate(234.94px,259.90px) scaleX(0.6789)">476</span>
<span class="t" style="letter-spacing:0.810px;transform:translate(250.91px,259.90px) scaleX(0.6789)">554</span>
<span class="t" style="transform:translate(291.48px,259.90px) scaleX(0.6789)">6</span>
<span class="t" style="transform:translate(295.83px,259.90px) scaleX(0.8048)">,</span>
<span class="t" style="letter-spacing:0.810px;transform:translate(298.52px,259.90px) scaleX(0.6789)">16</span>
<span class="t" style="transform:translate(307.84px,259.90px) scaleX(0.7656)">%</span>
<span class="t" style="letter-spacing:0.810px;transform:translate(343.16px,259.90px) scaleX(0.6789)">161</span>
<span class="t" style="letter-spacing:0.810px;transform:translate(359.14px,259.90px) scaleX(0.6789)">148</span>
<span class="t" style="letter-spacing:0.810px;transform:translate(375.11px,259.90px) scaleX(0.6789)">088</span>
<span class="t" style="transform:translate(415.48px,259.90px) scaleX(0.6789)">5</span>
<span class="t" style="transform:translate(419.83px,259.90px) scaleX(0.8048)">,</span>
<span class="t" style="letter-spacing:0.810px;transform:translate(422.52px,259.90px) scaleX(0.6789)">21</span>
<span class="t" style="transform:translate(431.84px,259.90px) scaleX(0.7656)">%</span>
<span class="t" style="transform:translate(462.44px,259.90px) scaleX(0.8158)">–</span>
<span class="t" style="letter-spacing:0.810px;transform:translate(468.32px,259.90px) scaleX(0.6789)">13</span>
<span class="t" style="letter-spacing:0.810px;transform:translate(479.67px,259.90px) scaleX(0.6789)">328</span>
<span class="t" style="letter-spacing:0.810px;transform:translate(495.65px,259.90px) scaleX(0.6789)">465</span>
<span class="t" style="transform:translate(521.15px,259.90px) scaleX(0.8158)">–</span>
<span class="t" style="transform:translate(527.02px,259.90px) scaleX(0.6789)">7</span>
<span class="t" style="transform:translate(531.38px,259.90px) scaleX(0.8048)">,</span>
<span class="t" style="letter-spacing:0.810px;transform:translate(534.07px,259.90px) scaleX(0.6789)">64</span>
<span class="t" style="transform:translate(543.39px,259.90px) scaleX(0.7656)">%</span>
<span class="t" style="transform:translate(3.50px,277.60px) scaleX(0.6733)">в</span>
<span class="t" style="transform:translate(10.74px,277.60px) scaleX(0.5871)">т</span>
<span class="t" style="transform:translate(13.94px,277.60px) scaleX(0.8048)">.</span>
<span class="t" style="transform:translate(18.36px,277.60px) scaleX(0.5944)">ч</span>
<span class="t" style="transform:translate(22.00px,277.60px) scaleX(0.8048)">.</span>
<span class="t" style="transform:translate(27.69px,277.60px) scaleX(0.6691)">5</span>
<span class="t" style="letter-spacing:0.822px;transform:translate(34.66px,277.60px) scaleX(0.6691)">020</span>
<span class="t" style="letter-spacing:0.822px;transform:translate(50.76px,277.60px) scaleX(0.6691)">000</span>
<span class="t" style="transform:translate(66.86px,277.60px) scaleX(0.6691)">5</span>
<span class="t" style="transform:translate(71.16px,277.60px) scaleX(0.8048)">.</span>
<span class="t" style="transform:translate(73.84px,277.60px) scaleX(0.6691)">2</span>
<span class="t" style="transform:translate(78.14px,277.60px) scaleX(0.8048)">.</span>
<span class="t" style="transform:translate(82.95px,277.60px) scaleX(0.5738)">Т</span>
<span class="t" style="letter-spacing:0.496px;transform:translate(87.26px,277.60px) scaleX(0.6756)">опливо</span>
<span class="t" style="transform:translate(116.32px,277.60px) scaleX(0.7995)">(</span>
<span class="t" style="letter-spacing:0.906px;transform:translate(119.20px,277.60px) scaleX(0.5820)">ГСМ</span>
<span class="t" style="transform:translate(133.60px,277.60px) scaleX(0.7995)">)</span>
<span class="t" style="letter-spacing:0.810px;transform:translate(218.96px,277.60px) scaleX(0.6789)">162</span>
<span class="t" style="letter-spacing:0.810px;transform:translate(234.94px,277.60px) scaleX(0.6789)">193</span>
<span class="t" style="letter-spacing:0.810px;transform:translate(250.91px,277.60px) scaleX(0.6789)">371</span>
<span class="t" style="transform:translate(291.48px,277.60px) scaleX(0.6789)">5</span>
<span class="t" style="transform:translate(295.83px,277.60px) scaleX(0.8048)">,</span>
<span class="t" style="letter-spacing:0.810px;transform:translate(298.52px,277.60px) scaleX(0.6789)">72</span>
<span class="t" style="transform:translate(307.84px,277.60px) scaleX(0.7656)">%</span>
<span class="t" style="letter-spacing:0.810px;transform:translate(343.16px,277.60px) scaleX(0.6789)">141</span>
<span class="t" style="letter-spacing:0.810px;transform:translate(359.14px,277.60px) scaleX(0.6789)">080</span>
<span class="t" style="letter-spacing:0.810px;transform:translate(375.11px,277.60px) scaleX(0.6789)">508</span>
<span class="t" style="transform:translate(415.48px,277.60px) scaleX(0.6789)">4</span>
<span class="t" style="transform:translate(419.83px,277.60px) scaleX(0.8048)">,</span>
<span class="t" style="letter-spacing:0.810px;transform:translate(422.52px,277.60px) scaleX(0.6789)">56</span>
<span class="t" style="transform:translate(431.84px,277.60px) scaleX(0.7656)">%</span>
<span class="t" style="transform:translate(462.75px,277.60px) scaleX(0.8158)">–</span>
<span class="t" style="letter-spacing:0.810px;transform:translate(468.63px,277.60px) scaleX(0.6789)">21</span>
<span class="t" style="letter-spacing:0.815px;transform:translate(479.98px,277.60px) scaleX(0.6746)">112</span>
<span class="t" style="letter-spacing:0.810px;transform:translate(495.34px,277.60px) scaleX(0.6789)">863</span>
<span class="t" style="transform:translate(518.84px,277.60px) scaleX(0.8158)">–</span>
<span class="t" style="letter-spacing:0.810px;transform:translate(524.71px,277.60px) scaleX(0.6789)">13</span>
<span class="t" style="transform:translate(533.69px,277.60px) scaleX(0.8048)">,</span>
<span class="t" style="letter-spacing:0.810px;transform:translate(536.38px,277.60px) scaleX(0.6789)">02</span>
<span class="t" style="transform:translate(545.71px,277.60px) scaleX(0.7656)">%</span>
<span class="t" style="transform:translate(2.88px,309.75px) scaleX(0.6691)">6</span>
<span class="t" style="letter-spacing:0.822px;transform:translate(9.84px,309.75px) scaleX(0.6691)">000</span>
<span class="t" style="letter-spacing:0.822px;transform:translate(25.94px,309.75px) scaleX(0.6691)">000</span>
<span class="t" style="transform:translate(42.05px,309.75px) scaleX(0.6691)">6</span>
<span class="t" style="transform:translate(46.34px,309.75px) scaleX(0.8048)">.</span>
<span class="t" style="letter-spacing:0.903px;transform:translate(52.25px,309.75px) scaleX(0.6159)">АМОРТИЗАЦИЯ</span>
<span class="t" style="letter-spacing:0.810px;transform:translate(221.27px,309.75px) scaleX(0.6789)">82</span>
<span class="t" style="letter-spacing:0.810px;transform:translate(232.62px,309.75px) scaleX(0.6789)">896</span>
<span class="t" style="letter-spacing:0.810px;transform:translate(248.60px,309.75px) scaleX(0.6789)">218</span>
<span class="t" style="transform:translate(291.48px,309.75px) scaleX(0.6789)">2</span>
<span class="t" style="transform:translate(295.83px,309.75px) scaleX(0.8048)">,</span>
<span class="t" style="letter-spacing:0.810px;transform:translate(298.52px,309.75px) scaleX(0.6789)">92</span>
<span class="t" style="transform:translate(307.84px,309.75px) scaleX(0.7656)">%</span>
<span class="t" style="letter-spacing:0.810px;transform:translate(343.16px,309.75px) scaleX(0.6789)">149</span>
<span class="t" style="letter-spacing:0.810px;transform:translate(359.14px,309.75px) scaleX(0.6789)">530</span>
<span class="t" style="letter-spacing:0.810px;transform:translate(375.11px,309.75px) scaleX(0.6789)">859</span>
<span class="t" style="transform:translate(415.48px,309.75px) scaleX(0.6789)">4</span>
<span class="t" style="transform:translate(419.83px,309.75px) scaleX(0.8048)">,</span>
<span class="t" style="letter-spacing:0.810px;transform:translate(422.52px,309.75px) scaleX(0.6789)">83</span>
<span class="t" style="transform:translate(431.84px,309.75px) scaleX(0.7656)">%</span>
<span class="t" style="letter-spacing:0.810px;transform:translate(465.37px,309.75px) scaleX(0.6789)">66</span>
<span class="t" style="letter-spacing:0.810px;transform:translate(476.72px,309.75px) scaleX(0.6789)">634</span>
<span class="t" style="letter-spacing:0.810px;transform:translate(492.70px,309.75px) scaleX(0.6789)">641</span>
<span class="t" style="letter-spacing:0.810px;transform:translate(521.76px,309.75px) scaleX(0.6789)">80</span>
<span class="t" style="transform:translate(530.74px,309.75px) scaleX(0.8048)">,</span>
<span class="t" style="letter-spacing:0.810px;transform:translate(533.43px,309.75px) scaleX(0.6789)">38</span>
<span class="t" style="transform:translate(542.76px,309.75px) scaleX(0.7656)">%</span>
<span class="t" style="transform:translate(2.88px,341.40px) scaleX(0.6691)">7</span>
<span class="t" style="letter-spacing:0.822px;transform:translate(9.84px,341.40px) scaleX(0.6691)">000</span>
<span class="t" style="letter-spacing:0.822px;transform:translate(25.94px,341.40px) scaleX(0.6691)">000</span>
<span class="t" style="transform:translate(42.05px,341.40px) scaleX(0.6691)">7</span>
<span class="t" style="transform:translate(46.34px,341.40px) scaleX(0.8048)">.</span>
<span class="t" style="letter-spacing:0.906px;transform:translate(52.25px,341.40px) scaleX(0.6104)">АРЕНДА</span>
<span class="t" style="transform:translate(85.52px,341.40px) scaleX(0.6147)">И</span>
<span class="t" style="letter-spacing:0.909px;transform:translate(93.02px,341.40px) scaleX(0.6084)">ЛИЗИНГ</span>
<span class="t" style="letter-spacing:0.810px;transform:translate(218.96px,341.40px) scaleX(0.6789)">158</span>
<span class="t" style="letter-spacing:0.810px;transform:translate(234.94px,341.40px) scaleX(0.6789)">016</span>
<span class="t" style="letter-spacing:0.810px;transform:translate(250.91px,341.40px) scaleX(0.6789)">887</span>
<span class="t" style="transform:translate(291.48px,341.40px) scaleX(0.6789)">5</span>
<span class="t" style="transform:translate(295.83px,341.40px) scaleX(0.8048)">,</span>
<span class="t" style="letter-spacing:0.810px;transform:translate(298.52px,341.40px) scaleX(0.6789)">57</span>
<span class="t" style="transform:translate(307.84px,341.40px) scaleX(0.7656)">%</span>
<span class="t" style="letter-spacing:0.810px;transform:translate(343.16px,341.40px) scaleX(0.6789)">170</span>
<span class="t" style="letter-spacing:0.810px;transform:translate(359.14px,341.40px) scaleX(0.6789)">758</span>
<span class="t" style="letter-spacing:0.810px;transform:translate(375.11px,341.40px) scaleX(0.6789)">749</span>
<span class="t" style="transform:translate(415.48px,341.40px) scaleX(0.6789)">5</span>
<span class="t" style="transform:translate(419.83px,341.40px) scaleX(0.8048)">,</span>
<span class="t" style="letter-spacing:0.810px;transform:translate(422.52px,341.40px) scaleX(0.6789)">52</span>
<span class="t" style="transform:translate(431.84px,341.40px) scaleX(0.7656)">%</span>
<span class="t" style="letter-spacing:0.810px;transform:translate(465.37px,341.40px) scaleX(0.6789)">12</span>
<span class="t" style="letter-spacing:0.810px;transform:translate(476.72px,341.40px) scaleX(0.6789)">741</span>
<span class="t" style="letter-spacing:0.810px;transform:translate(492.70px,341.40px) scaleX(0.6789)">862</span>
<span class="t" style="transform:translate(524.08px,341.40px) scaleX(0.6789)">8</span>
<span class="t" style="transform:translate(528.43px,341.40px) scaleX(0.8048)">,</span>
<span class="t" style="letter-spacing:0.810px;transform:translate(531.12px,341.40px) scaleX(0.6789)">06</span>
<span class="t" style="transform:translate(540.44px,341.40px) scaleX(0.7656)">%</span>
<span class="t" style="transform:translate(3.50px,358.95px) scaleX(0.6850)">в</span>
<span class="t" style="transform:translate(10.81px,358.95px) scaleX(0.5871)">т</span>
<span class="t" style="transform:translate(14.01px,358.95px) scaleX(0.8048)">.</span>
<span class="t" style="transform:translate(18.43px,358.95px) scaleX(0.5944)">ч</span>
<span class="t" style="transform:translate(22.07px,358.95px) scaleX(0.8048)">.</span>
<span class="t" style="transform:translate(27.76px,358.95px) scaleX(0.6691)">7</span>
<span class="t" style="letter-spacing:0.822px;transform:translate(34.73px,358.95px) scaleX(0.6691)">010</span>
<span class="t" style="letter-spacing:0.822px;transform:translate(50.83px,358.95px) scaleX(0.6691)">000</span>
<span class="t" style="transform:translate(67.16px,358.95px) scaleX(0.6012)">О</span>
<span class="t" style="letter-spacing:0.496px;transform:translate(72.74px,358.95px) scaleX(0.6875)">перационная</span>
<span class="t" style="letter-spacing:0.496px;transform:translate(124.73px,358.95px) scaleX(0.6880)">аренда</span>
<span class="t" style="letter-spacing:0.810px;transform:translate(221.27px,358.95px) scaleX(0.6789)">97</span>
<span class="t" style="letter-spacing:0.810px;transform:translate(232.62px,358.95px) scaleX(0.6789)">938</span>
<span class="t" style="letter-spacing:0.810px;transform:translate(248.60px,358.95px) scaleX(0.6789)">320</span>
<span class="t" style="transform:translate(291.48px,358.95px) scaleX(0.6789)">3</span>
<span class="t" style="transform:translate(295.83px,358.95px) scaleX(0.8048)">,</span>
<span class="t" style="letter-spacing:0.810px;transform:translate(298.52px,358.95px) scaleX(0.6789)">46</span>
<span class="t" style="transform:translate(307.84px,358.95px) scaleX(0.7656)">%</span>
<span class="t" style="letter-spacing:0.810px;transform:translate(343.16px,358.95px) scaleX(0.6789)">130</span>
<span class="t" style="letter-spacing:0.810px;transform:translate(359.14px,358.95px) scaleX(0.6789)">584</span>
<span class="t" style="letter-spacing:0.810px;transform:translate(375.11px,358.95px) scaleX(0.6789)">774</span>
<span class="t" style="transform:translate(415.48px,358.95px) scaleX(0.6789)">4</span>
<span class="t" style="transform:translate(419.83px,358.95px) scaleX(0.8048)">,</span>
<span class="t" style="letter-spacing:0.810px;transform:translate(422.52px,358.95px) scaleX(0.6789)">22</span>
<span class="t" style="transform:translate(431.84px,358.95px) scaleX(0.7656)">%</span>
<span class="t" style="letter-spacing:0.810px;transform:translate(465.37px,358.95px) scaleX(0.6789)">32</span>
<span class="t" style="letter-spacing:0.810px;transform:translate(476.72px,358.95px) scaleX(0.6789)">646</span>
<span class="t" style="letter-spacing:0.810px;transform:translate(492.70px,358.95px) scaleX(0.6789)">454</span>
<span class="t" style="letter-spacing:0.810px;transform:translate(521.76px,358.95px) scaleX(0.6789)">33</span>
<span class="t" style="transform:translate(530.74px,358.95px) scaleX(0.8048)">,</span>
<span class="t" style="letter-spacing:0.810px;transform:translate(533.43px,358.95px) scaleX(0.6789)">33</span>
<span class="t" style="transform:translate(542.76px,358.95px) scaleX(0.7656)">%</span>
<span class="t" style="transform:translate(3.50px,377.40px) scaleX(0.6871)">в</span>
<span class="t" style="transform:translate(10.82px,377.40px) scaleX(0.5871)">т</span>
<span class="t" style="transform:translate(14.03px,377.40px) scaleX(0.8048)">.</span>
<span class="t" style="transform:translate(18.44px,377.40px) scaleX(0.5944)">ч</span>
<span class="t" style="transform:translate(22.08px,377.40px) scaleX(0.8048)">.</span>
<span class="t" style="transform:translate(27.77px,377.40px) scaleX(0.6691)">7</span>
<span class="t" style="letter-spacing:0.822px;transform:translate(34.74px,377.40px) scaleX(0.6691)">020</span>
<span class="t" style="letter-spacing:0.822px;transform:translate(50.84px,377.40px) scaleX(0.6691)">000</span>
<span class="t" style="transform:translate(67.17px,377.40px) scaleX(0.6016)">Ф</span>
<span class="t" style="letter-spacing:0.497px;transform:translate(72.65px,377.40px) scaleX(0.6886)">инансовая</span>
<span class="t" style="letter-spacing:0.496px;transform:translate(115.15px,377.40px) scaleX(0.6902)">аренда</span>
<span class="t" style="letter-spacing:0.810px;transform:translate(221.27px,377.40px) scaleX(0.6789)">60</span>
<span class="t" style="letter-spacing:0.810px;transform:translate(232.62px,377.40px) scaleX(0.6789)">078</span>
<span class="t" style="letter-spacing:0.810px;transform:translate(248.60px,377.40px) scaleX(0.6789)">567</span>
<span class="t" style="transform:translate(291.48px,377.40px) scaleX(0.6789)">2</span>
<span class="t" style="transform:translate(295.83px,377.40px) scaleX(0.8048)">,</span>
<span class="t" style="letter-spacing:0.810px;transform:translate(298.52px,377.40px) scaleX(0.6789)">12</span>
<span class="t" style="transform:translate(307.84px,377.40px) scaleX(0.7656)">%</span>
<span class="t" style="letter-spacing:0.810px;transform:translate(345.47px,377.40px) scaleX(0.6789)">40</span>
<span class="t" style="letter-spacing:0.810px;transform:translate(356.82px,377.40px) scaleX(0.6789)">173</span>
<span class="t" style="letter-spacing:0.810px;transform:translate(372.80px,377.40px) scaleX(0.6789)">976</span>
<span class="t" style="transform:translate(415.48px,377.40px) scaleX(0.6789)">1</span>
<span class="t" style="transform:translate(419.83px,377.40px) scaleX(0.8048)">,</span>
<span class="t" style="letter-spacing:0.810px;transform:translate(422.52px,377.40px) scaleX(0.6789)">30</span>
<span class="t" style="transform:translate(431.84px,377.40px) scaleX(0.7656)">%</span>
<span class="t" style="transform:translate(462.44px,377.40px) scaleX(0.8158)">–</span>
<span class="t" style="letter-spacing:0.810px;transform:translate(468.32px,377.40px) scaleX(0.6789)">19</span>
<span class="t" style="letter-spacing:0.810px;transform:translate(479.67px,377.40px) scaleX(0.6789)">904</span>
<span class="t" style="letter-spacing:0.810px;transform:translate(495.65px,377.40px) scaleX(0.6789)">592</span>
<span class="t" style="transform:translate(518.84px,377.40px) scaleX(0.8158)">–</span>
<span class="t" style="letter-spacing:0.810px;transform:translate(524.71px,377.40px) scaleX(0.6789)">33</span>
<span class="t" style="transform:translate(533.69px,377.40px) scaleX(0.8048)">,</span>
<span class="t" style="letter-spacing:0.810px;transform:translate(536.38px,377.40px) scaleX(0.6789)">13</span>
<span class="t" style="transform:translate(545.71px,377.40px) scaleX(0.7656)">%</span>
<span class="t" style="transform:translate(2.88px,395.30px) scaleX(0.6691)">8</span>
<span class="t" style="letter-spacing:0.822px;transform:translate(9.84px,395.30px) scaleX(0.6691)">000</span>
<span class="t" style="letter-spacing:0.822px;transform:translate(25.94px,395.30px) scaleX(0.6691)">000</span>
<span class="t" style="transform:translate(42.05px,395.30px) scaleX(0.6691)">8</span>
<span class="t" style="transform:translate(46.34px,395.30px) scaleX(0.8048)">.</span>
<span class="t" style="letter-spacing:0.905px;transform:translate(52.25px,395.30px) scaleX(0.5937)">НАЛОГИ</span>
<span class="t" style="transform:translate(84.01px,395.30px) scaleX(0.5972)">И</span>
<span class="t" style="letter-spacing:0.897px;transform:translate(91.39px,395.30px) scaleX(0.5991)">СБОРЫ</span>
<span class="t" style="transform:translate(120.32px,395.30px) scaleX(0.5918)">В</span>
<span class="t" style="letter-spacing:0.903px;transform:translate(127.66px,395.30px) scaleX(0.5953)">СЕБЕСТОИМОСТИ</span>
<span class="t" style="transform:translate(223.58px,395.30px) scaleX(0.6789)">1</span>
<span class="t" style="letter-spacing:0.810px;transform:translate(230.31px,395.30px) scaleX(0.6789)">739</span>
<span class="t" style="letter-spacing:0.810px;transform:translate(246.29px,395.30px) scaleX(0.6789)">740</span>
<span class="t" style="transform:translate(291.48px,395.30px) scaleX(0.6789)">0</span>
<span class="t" style="transform:translate(295.83px,395.30px) scaleX(0.8048)">,</span>
<span class="t" style="letter-spacing:0.810px;transform:translate(298.52px,395.30px) scaleX(0.6789)">06</span>
<span class="t" style="transform:translate(307.84px,395.30px) scaleX(0.7656)">%</span>
<span class="t" style="transform:translate(347.78px,395.30px) scaleX(0.6789)">1</span>
<span class="t" style="letter-spacing:0.810px;transform:translate(354.51px,395.30px) scaleX(0.6789)">819</span>
<span class="t" style="letter-spacing:0.810px;transform:translate(370.49px,395.30px) scaleX(0.6789)">159</span>
<span class="t" style="transform:translate(415.48px,395.30px) scaleX(0.6789)">0</span>
<span class="t" style="transform:translate(419.83px,395.30px) scaleX(0.8048)">,</span>
<span class="t" style="letter-spacing:0.810px;transform:translate(422.52px,395.30px) scaleX(0.6789)">06</span>
<span class="t" style="transform:translate(431.84px,395.30px) scaleX(0.7656)">%</span>
<span class="t" style="letter-spacing:0.810px;transform:translate(473.36px,395.30px) scaleX(0.6789)">79</span>
<span class="t" style="letter-spacing:0.810px;transform:translate(484.71px,395.30px) scaleX(0.6789)">419</span>
<span class="t" style="transform:translate(524.08px,395.30px) scaleX(0.6789)">4</span>
<span class="t" style="transform:translate(528.43px,395.30px) scaleX(0.8048)">,</span>
<span class="t" style="letter-spacing:0.810px;transform:translate(531.12px,395.30px) scaleX(0.6789)">56</span>
<span class="t" style="transform:translate(540.44px,395.30px) scaleX(0.7656)">%</span>
<span class="t" style="transform:translate(2.88px,413.60px) scaleX(0.6691)">9</span>
<span class="t" style="letter-spacing:0.822px;transform:translate(9.84px,413.60px) scaleX(0.6691)">000</span>
<span class="t" style="letter-spacing:0.822px;transform:translate(25.94px,413.60px) scaleX(0.6691)">000</span>
<span class="t" style="transform:translate(42.05px,413.60px) scaleX(0.6691)">9</span>
<span class="t" style="transform:translate(46.34px,413.60px) scaleX(0.8048)">.</span>
<span class="t" style="letter-spacing:0.903px;transform:translate(52.25px,413.60px) scaleX(0.5992)">ПРОЧИЕ</span>
<span class="t" style="letter-spacing:0.903px;transform:translate(85.03px,413.60px) scaleX(0.5991)">РАСХОДЫ</span>
<span class="t" style="transform:translate(223.58px,413.60px) scaleX(0.6789)">4</span>
<span class="t" style="letter-spacing:0.810px;transform:translate(230.31px,413.60px) scaleX(0.6789)">509</span>
<span class="t" style="letter-spacing:0.810px;transform:translate(246.29px,413.60px) scaleX(0.6789)">258</span>
<span class="t" style="transform:translate(291.48px,413.60px) scaleX(0.6789)">0</span>
<span class="t" style="transform:translate(295.83px,413.60px) scaleX(0.8048)">,</span>
<span class="t" style="letter-spacing:0.810px;transform:translate(298.52px,413.60px) scaleX(0.6789)">16</span>
<span class="t" style="transform:translate(307.84px,413.60px) scaleX(0.7656)">%</span>
<span class="t" style="transform:translate(347.78px,413.60px) scaleX(0.6789)">2</span>
<span class="t" style="letter-spacing:0.810px;transform:translate(354.51px,413.60px) scaleX(0.6789)">267</span>
<span class="t" style="letter-spacing:0.810px;transform:translate(370.49px,413.60px) scaleX(0.6789)">794</span>
<span class="t" style="transform:translate(415.48px,413.60px) scaleX(0.6789)">0</span>
<span class="t" style="transform:translate(419.83px,413.60px) scaleX(0.8048)">,</span>
<span class="t" style="letter-spacing:0.810px;transform:translate(422.52px,413.60px) scaleX(0.6789)">07</span>
<span class="t" style="transform:translate(431.84px,413.60px) scaleX(0.7656)">%</span>
<span class="t" style="transform:translate(464.76px,413.60px) scaleX(0.8158)">–</span>
<span class="t" style="transform:translate(470.63px,413.60px) scaleX(0.6789)">2</span>
<span class="t" style="letter-spacing:0.810px;transform:translate(477.36px,413.60px) scaleX(0.6789)">241</span>
<span class="t" style="letter-spacing:0.810px;transform:translate(493.34px,413.60px) scaleX(0.6789)">464</span>
<span class="t" style="transform:translate(518.84px,413.60px) scaleX(0.8158)">–</span>
<span class="t" style="letter-spacing:0.810px;transform:translate(524.71px,413.60px) scaleX(0.6789)">49</span>
<span class="t" style="transform:translate(533.69px,413.60px) scaleX(0.8048)">,</span>
<span class="t" style="letter-spacing:0.810px;transform:translate(536.38px,413.60px) scaleX(0.6789)">71</span>
<span class="t" style="transform:translate(545.71px,413.60px) scaleX(0.7656)">%</span>
<span class="t" style="transform:translate(3.50px,431.50px) scaleX(0.6002)">И</span>
<span class="t" style="letter-spacing:0.503px;transform:translate(8.70px,431.50px) scaleX(0.6829)">того</span>
<span class="t" style="letter-spacing:0.498px;transform:translate(26.95px,431.50px) scaleX(0.6902)">себестоимость</span>
<span class="t" style="transform:translate(215.59px,431.50px) scaleX(0.6789)">2</span>
<span class="t" style="letter-spacing:0.810px;transform:translate(222.32px,431.50px) scaleX(0.6789)">487</span>
<span class="t" style="letter-spacing:0.810px;transform:translate(238.30px,431.50px) scaleX(0.6789)">782</span>
<span class="t" style="letter-spacing:0.810px;transform:translate(254.28px,431.50px) scaleX(0.6789)">745</span>
<span class="t" style="letter-spacing:0.810px;transform:translate(289.16px,431.50px) scaleX(0.6789)">87</span>
<span class="t" style="transform:translate(298.14px,431.50px) scaleX(0.8048)">,</span>
<span class="t" style="letter-spacing:0.810px;transform:translate(300.83px,431.50px) scaleX(0.6789)">77</span>
<span class="t" style="transform:translate(310.16px,431.50px) scaleX(0.7656)">%</span>
<span class="t" style="transform:translate(339.79px,431.50px) scaleX(0.6789)">2</span>
<span class="t" style="letter-spacing:0.810px;transform:translate(346.52px,431.50px) scaleX(0.6789)">877</span>
<span class="t" style="letter-spacing:0.810px;transform:translate(362.50px,431.50px) scaleX(0.6789)">095</span>
<span class="t" style="letter-spacing:0.810px;transform:translate(378.48px,431.50px) scaleX(0.6789)">669</span>
<span class="t" style="letter-spacing:0.810px;transform:translate(413.16px,431.50px) scaleX(0.6789)">92</span>
<span class="t" style="transform:translate(422.14px,431.50px) scaleX(0.8048)">,</span>
<span class="t" style="letter-spacing:0.810px;transform:translate(424.83px,431.50px) scaleX(0.6789)">97</span>
<span class="t" style="transform:translate(434.16px,431.50px) scaleX(0.7656)">%</span>
<span class="t" style="letter-spacing:0.810px;transform:translate(463.06px,431.50px) scaleX(0.6789)">389</span>
<span class="t" style="letter-spacing:0.810px;transform:translate(479.04px,431.50px) scaleX(0.6789)">312</span>
<span class="t" style="letter-spacing:0.810px;transform:translate(495.01px,431.50px) scaleX(0.6789)">924</span>
<span class="t" style="letter-spacing:0.810px;transform:translate(521.76px,431.50px) scaleX(0.6789)">15</span>
<span class="t" style="transform:translate(530.74px,431.50px) scaleX(0.8048)">,</span>
<span class="t" style="letter-spacing:0.810px;transform:translate(533.43px,431.50px) scaleX(0.6789)">65</span>
<span class="t" style="transform:translate(542.76px,431.50px) scaleX(0.7656)">%</span>
<span class="t" style="transform:translate(562.80px,79.10px) scaleX(0.5994)">В</span>
<span class="t" style="letter-spacing:0.497px;transform:translate(570.20px,79.10px) scaleX(0.6964)">интервале</span>
<span class="t" style="transform:translate(562.80px,133.30px) scaleX(0.6211)">Н</span>
<span class="t" style="letter-spacing:0.496px;transform:translate(568.20px,133.30px) scaleX(0.7170)">еобходимо</span>
<span class="t" style="letter-spacing:0.497px;transform:translate(613.42px,133.30px) scaleX(0.7154)">выяснить</span>
<span class="t" style="letter-spacing:0.495px;transform:translate(653.21px,133.30px) scaleX(0.7180)">причины</span>
<span class="t" style="letter-spacing:0.498px;transform:translate(689.78px,133.30px) scaleX(0.7141)">использования</span>
<span class="t" style="letter-spacing:0.495px;transform:translate(562.80px,146.30px) scaleX(0.7083)">тампонажных</span>
<span class="t" style="letter-spacing:0.496px;transform:translate(618.39px,146.30px) scaleX(0.7065)">материалов</span>
<span class="t" style="transform:translate(667.47px,146.30px) scaleX(0.7036)">в</span>
<span class="t" style="letter-spacing:0.497px;transform:translate(674.90px,146.30px) scaleX(0.7046)">ходе</span>
<span class="t" style="letter-spacing:0.496px;transform:translate(695.60px,146.30px) scaleX(0.7066)">интервью</span>
<span class="t" style="transform:translate(562.80px,159.30px) scaleX(0.6844)">в</span>
<span class="t" style="letter-spacing:0.497px;transform:translate(570.11px,159.30px) scaleX(0.6857)">интервале</span>
<span class="t" style="transform:translate(562.80px,179.80px) scaleX(0.6099)">П</span>
<span class="t" style="letter-spacing:0.499px;transform:translate(568.08px,179.80px) scaleX(0.7005)">риоритет</span>
<span class="t" style="transform:translate(605.61px,179.80px) scaleX(0.6691)">1</span>
<span class="t" style="transform:translate(562.80px,192.50px) scaleX(0.6996)">в</span>
<span class="t" style="letter-spacing:0.497px;transform:translate(570.20px,192.50px) scaleX(0.7006)">процессе</span>
<span class="t" style="transform:translate(608.57px,192.50px) scaleX(0.8307)">«</span>
<span class="t" style="transform:translate(613.56px,192.50px) scaleX(0.5952)">З</span>
<span class="t" style="letter-spacing:0.500px;transform:translate(617.99px,192.50px) scaleX(0.6967)">акупки</span>
<span class="t" style="transform:translate(642.96px,192.50px) scaleX(0.8307)">»</span>
<span class="t" style="transform:translate(651.15px,192.50px) scaleX(0.8307)">+</span>
<span class="t" style="letter-spacing:0.494px;transform:translate(659.33px,192.50px) scaleX(0.7059)">см</span>
<span class="t" style="transform:translate(669.08px,192.50px) scaleX(0.8048)">.</span>
<span class="t" style="letter-spacing:0.497px;transform:translate(673.89px,192.50px) scaleX(0.7010)">анализ</span>
<span class="t" style="letter-spacing:0.500px;transform:translate(703.58px,192.50px) scaleX(0.6969)">контрагентов</span>
<span class="t" style="letter-spacing:0.497px;transform:translate(562.80px,205.20px) scaleX(0.7045)">транспортных</span>
<span class="t" style="letter-spacing:0.502px;transform:translate(619.59px,205.20px) scaleX(0.6979)">услуг</span>
<span class="t" style="transform:translate(562.80px,259.90px) scaleX(0.6161)">И</span>
<span class="t" style="letter-spacing:0.498px;transform:translate(568.14px,259.90px) scaleX(0.7080)">сходя</span>
<span class="t" style="letter-spacing:0.500px;transform:translate(593.10px,259.90px) scaleX(0.7054)">из</span>
<span class="t" style="letter-spacing:0.498px;transform:translate(604.43px,259.90px) scaleX(0.7087)">аналитики</span>
<span class="t" style="letter-spacing:0.496px;transform:translate(647.30px,259.90px) scaleX(0.7111)">компании</span>
<span class="t" style="letter-spacing:0.496px;transform:translate(687.19px,259.90px) scaleX(0.7116)">снижение</span>
<span class="t" style="letter-spacing:0.498px;transform:translate(727.45px,259.90px) scaleX(0.7087)">стоимости</span>
<span class="t" style="letter-spacing:0.912px;transform:translate(770.35px,259.90px) scaleX(0.6078)">ДТ</span>
<span class="t" style="letter-spacing:0.498px;transform:translate(562.80px,272.75px) scaleX(0.6949)">составило</span>
<span class="t" style="transform:translate(604.86px,272.75px) scaleX(0.6945)">в</span>
<span class="t" style="letter-spacing:0.495px;transform:translate(612.22px,272.75px) scaleX(0.6983)">среднем</span>
<span class="t" style="letter-spacing:0.822px;transform:translate(647.11px,272.75px) scaleX(0.6691)">25</span>
<span class="t" style="transform:translate(656.32px,272.75px) scaleX(0.7656)">%</span>
<span class="t" style="transform:translate(666.68px,272.75px) scaleX(0.8246)">+</span>
<span class="t" style="letter-spacing:0.494px;transform:translate(674.82px,272.75px) scaleX(0.7008)">см</span>
<span class="t" style="transform:translate(684.50px,272.75px) scaleX(0.8048)">.</span>
<span class="t" style="letter-spacing:0.497px;transform:translate(689.31px,272.75px) scaleX(0.6959)">анализ</span>
<span class="t" style="letter-spacing:0.496px;transform:translate(718.81px,272.75px) scaleX(0.6972)">цен</span>
<span class="t" style="letter-spacing:0.496px;transform:translate(735.30px,272.75px) scaleX(0.6970)">на</span>
<span class="t" style="letter-spacing:0.906px;transform:translate(747.19px,272.75px) scaleX(0.6002)">ГСМ</span>
<span class="t" style="transform:translate(562.80px,309.75px) scaleX(0.6238)">О</span>
<span class="t" style="letter-spacing:0.497px;transform:translate(568.60px,309.75px) scaleX(0.7126)">ценочно</span>
<span class="t" style="transform:translate(600.57px,309.75px) scaleX(0.8048)">,</span>
<span class="t" style="letter-spacing:0.497px;transform:translate(605.38px,309.75px) scaleX(0.7121)">увеличение</span>
<span class="t" style="letter-spacing:0.497px;transform:translate(653.50px,309.75px) scaleX(0.7129)">амортизации</span>
<span class="t" style="letter-spacing:0.499px;transform:translate(706.83px,309.75px) scaleX(0.7102)">связано</span>
<span class="t" style="transform:translate(562.80px,322.60px) scaleX(0.6897)">с</span>
<span class="t" style="letter-spacing:0.496px;transform:translate(570.14px,322.60px) scaleX(0.6962)">увеличением</span>
<span class="t" style="letter-spacing:0.497px;transform:translate(622.47px,322.60px) scaleX(0.6953)">первоначальной</span>
<span class="t" style="letter-spacing:0.498px;transform:translate(687.68px,322.60px) scaleX(0.6940)">стоимости</span>
<span class="t" style="letter-spacing:0.895px;transform:translate(729.75px,322.60px) scaleX(0.6063)">ОС</span>
<span class="t" style="letter-spacing:0.496px;transform:translate(743.44px,322.60px) scaleX(0.6960)">на</span>
<span class="t" style="letter-spacing:0.822px;transform:translate(755.29px,322.60px) scaleX(0.6691)">58</span>
<span class="t" style="transform:translate(764.15px,322.60px) scaleX(0.8048)">,</span>
<span class="t" style="letter-spacing:0.822px;transform:translate(766.83px,322.60px) scaleX(0.6691)">52</span>
<span class="t" style="transform:translate(776.04px,322.60px) scaleX(0.7656)">%</span>
<span class="t" style="transform:translate(562.80px,341.40px) scaleX(0.6076)">И</span>
<span class="t" style="letter-spacing:0.498px;transform:translate(568.06px,341.40px) scaleX(0.6988)">нтересная</span>
<span class="t" style="letter-spacing:0.501px;transform:translate(610.50px,341.40px) scaleX(0.6946)">статья</span>
<span class="t" style="transform:translate(635.10px,341.40px) scaleX(0.8048)">,</span>
<span class="t" style="letter-spacing:0.495px;transform:translate(639.91px,341.40px) scaleX(0.7023)">нужно</span>
<span class="t" style="letter-spacing:0.498px;transform:translate(666.04px,341.40px) scaleX(0.6980)">понять</span>
<span class="t" style="transform:translate(692.02px,341.40px) scaleX(0.8048)">,</span>
<span class="t" style="letter-spacing:0.500px;transform:translate(696.83px,341.40px) scaleX(0.6956)">что</span>
<span class="t" style="letter-spacing:0.501px;transform:translate(712.17px,341.40px) scaleX(0.6942)">это</span>
<span class="t" style="letter-spacing:0.500px;transform:translate(727.24px,341.40px) scaleX(0.6962)">такое</span>
<span class="t" style="transform:translate(562.80px,395.30px) scaleX(0.5980)">В</span>
<span class="t" style="letter-spacing:0.497px;transform:translate(570.19px,395.30px) scaleX(0.6948)">интервале</span>
<span class="t" style="transform:translate(562.80px,413.60px) scaleX(0.5947)">Н</span>
<span class="t" style="transform:translate(567.97px,413.60px) scaleX(0.6858)">е</span>
<span class="t" style="letter-spacing:0.498px;transform:translate(575.29px,413.60px) scaleX(0.6838)">интересно</span>
<span class="t" style="transform:translate(562.80px,431.50px) scaleX(0.5942)">Т</span>
<span class="t" style="letter-spacing:0.494px;transform:translate(567.26px,431.50px) scaleX(0.7037)">ампонажные</span>
<span class="t" style="letter-spacing:0.495px;transform:translate(618.76px,431.50px) scaleX(0.7021)">материалы</span>
<span class="t" style="letter-spacing:0.493px;transform:translate(664.31px,431.50px) scaleX(0.7040)">имеют</span>
<span class="t" style="letter-spacing:0.496px;transform:translate(691.65px,431.50px) scaleX(0.7002)">наиболее</span>
<span class="t" style="letter-spacing:0.496px;transform:translate(731.07px,431.50px) scaleX(0.7009)">существенный</span>
<span class="t" style="letter-spacing:0.496px;transform:translate(562.80px,444.35px) scaleX(0.6991)">удельный</span>
<span class="t" style="letter-spacing:0.499px;transform:translate(602.43px,444.35px) scaleX(0.6950)">вес</span>
<span class="t" style="transform:translate(618.57px,444.35px) scaleX(0.6957)">в</span>
<span class="t" style="letter-spacing:0.497px;transform:translate(625.94px,444.35px) scaleX(0.6970)">увеличении</span>
<span class="t" style="letter-spacing:0.498px;transform:translate(673.11px,444.35px) scaleX(0.6964)">себестоимости</span>
<span class="t" style="transform:translate(732.96px,444.35px) scaleX(0.6957)">в</span>
<span class="t" style="letter-spacing:0.822px;transform:translate(740.31px,444.35px) scaleX(0.6691)">2009</span>
<span class="t" style="transform:translate(761.21px,444.35px) scaleX(0.6681)">г</span>
<span class="t" style="transform:translate(764.19px,444.35px) scaleX(0.8048)">.</span>
</div>
</body></html>
